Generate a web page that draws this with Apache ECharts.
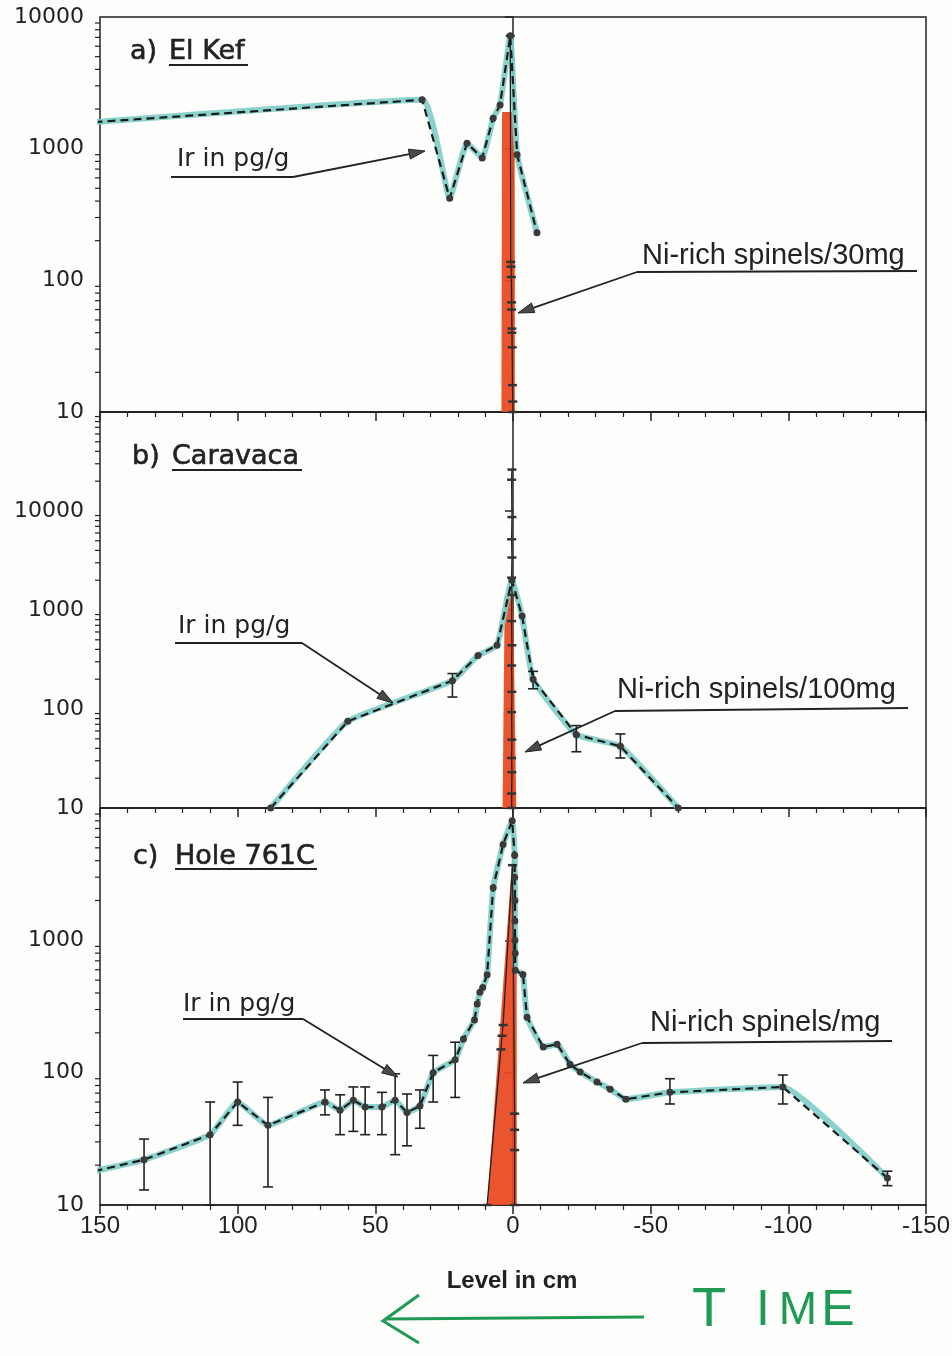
<!DOCTYPE html>
<html>
<head>
<meta charset="UTF-8">
<title>Ir and Ni-rich spinels across the K/T boundary</title>
<script src="https://cdn.jsdelivr.net/npm/echarts@6.0.0/dist/echarts.min.js"></script>
<style>
  html, body { margin: 0; padding: 0; background: #fdfdfb; }
  #chart { width: 952px; height: 1356px; }
</style>
</head>
<body>
<div id="chart"></div>
<script>
// ---- data (level in cm, positive = below the boundary) ----
var levelTicks = [150, 100, 50, 0, -50, -100, -150];
var yLabelsA = [10, 100, 1000, 10000];
var yLabelsB = [10, 100, 1000, 10000];
var yLabelsC = [10, 100, 1000];

// a) El Kef
var irA_level = [152, 33, 23, 16.7, 11.2, 7.2, 4.7, 1, -1.5, -8.7];
var irA_value = [1590, 2350, 420, 1100, 850, 1700, 2150, 7200, 900, 230];
var spA_level = [1, 0.8, 0.7, 0.6, 0.5, 0.5, 0.4, 0.4, 0.3, 0.2, 0.1, 0];
var spA_value = [7200, 138, 127, 106, 68, 60, 43, 40, 31, 16, 12, 10];
var redA_level = [4.2, 4, -0.6, -0.7];
var redA_value = [10, 1900, 1900, 10];

// b) Caravaca
var irB_level = [88, 60, 22, 12.7, 5.8, 0.4, -3.3, -7.3, -23, -39, -60];
var irB_value = [10, 75, 193, 347, 440, 2000, 870, 200, 55, 42, 10];
var errB_level = [22, -7.3, -23, -39];
var errB_low = [132, 160, 37, 32];
var errB_high = [228, 240, 68, 56];
var spB_level = [0.5, 0.5, 0.4, 0.5, 0.4, 0.5, 0.4, 0.5, 0.4, 0.5, 0.4, 0.5, 0.4, 0.5, 0.4, 0.5, 0.4];
var spB_value = [10, 14, 23, 32, 49, 93, 149, 275, 440, 773, 1420, 2120, 3390, 5180, 8680, 20700, 26200];
var redB_level = [3.8, 3, 0, -1.2];
var redB_value = [10, 1400, 1400, 10];

// c) Hole 761C
var irC_level = [152, 134, 110, 100, 89, 68.3, 62.8, 58, 53.7, 47.6, 42.8, 38.5, 33.8, 29, 21,
  18, 14, 13, 12, 11, 9.4, 7.2, 3.6, 0.3, -0.6, -0.6, -0.7, -0.7, -0.7, -0.8,
  -0.8, -3.6, -5.1, -11, -16, -20.7, -24.4, -30.5, -35.3, -41, -57, -98, -136];
var irC_value = [18, 22, 34, 60, 40, 60, 52, 62, 55, 55, 62, 50, 56, 100, 125,
  180, 250, 330, 405, 440, 550, 2500, 5300, 8000, 4400, 3000, 2000, 1400, 1000, 800,
  594, 553, 262, 156, 164, 116, 101, 85, 75, 63, 71, 78, 16];
var errC_level = [134, 110, 100, 89, 68.3, 62.8, 58, 53.7, 47.6, 42.8, 38.5, 33.8, 29, 21, -57, -98, -136];
var errC_low = [13, 10, 40, 13.7, 48, 34, 36, 34, 34, 24, 28, 38, 60, 65, 58, 58, 14];
var errC_high = [31.5, 60, 85, 65, 74, 68, 78, 78, 71, 98, 69, 74, 135, 170, 90, 96, 18];
var spC_level = [9.4, 4.4, 4.0, 3.6, 0.2, -0.6, -0.6, -0.6, -0.6];
var spC_value = [10, 150, 190, 229, 3700, 49, 37, 26, 10];
var redC_level = [9.4, 0.4, -1.3, -1.4];
var redC_value = [10, 3750, 3750, 10];

// ---- helpers ----
var ink = '#222';
var cyan = '#7ccdc8';
var red = '#e8461d';
var green = '#1f9a55';

function zip(xs, ys) {
  return xs.map(function (x, i) { return [x, ys[i]]; });
}

function xAxisFor(i, showLabels) {
  return {
    type: 'value', gridIndex: i, min: -150, max: 150, interval: 50, inverse: true,
    axisLine: { show: true, onZero: false, lineStyle: { color: ink, width: 1.5 } },
    axisTick: { show: true, length: 9, lineStyle: { color: ink, width: 1.5 } },
    minorTick: { show: true, splitNumber: 5, length: 5, lineStyle: { color: ink, width: 1.2 } },
    splitLine: { show: false },
    axisLabel: {
      show: showLabels, margin: 9, color: ink, fontSize: 24,
      fontFamily: "'Liberation Sans Narrow', 'Liberation Sans', sans-serif",
      formatter: function (v) { return levelTicks.indexOf(v) >= 0 ? String(v) : ''; }
    }
  };
}

function yAxisFor(i, max, labels) {
  return {
    type: 'log', logBase: 10, gridIndex: i, min: 10, max: max,
    axisLine: { show: true, lineStyle: { color: ink, width: 1.5 } },
    axisTick: { show: true, length: 8, lineStyle: { color: ink, width: 1.5 } },
    splitLine: { show: false },
    axisLabel: {
      margin: 16, color: ink, fontSize: 22, fontFamily: 'DejaVu Sans',
      formatter: function (v) {
        var r = Math.round(v);
        return labels.indexOf(r) >= 0 ? String(r) : '';
      }
    }
  };
}

function minorTicks(i, lo, hi) {
  var vals = [];
  for (var d = lo; d < hi; d *= 10) {
    for (var m = 2; m <= 9; m++) vals.push([0, d * m]);
  }
  return {
    type: 'custom', xAxisIndex: i, yAxisIndex: i, silent: true, z: 5,
    data: vals, encode: { x: 0, y: 1 },
    renderItem: function (params, api) {
      var y = api.coord([0, api.value(1)])[1];
      var x = params.coordSys.x;
      return { type: 'line', shape: { x1: x - 5, y1: y, x2: x, y2: y },
        style: { stroke: ink, lineWidth: 1.2 } };
    }
  };
}

function highlight(i, levels, values) {
  return {
    type: 'line', xAxisIndex: i, yAxisIndex: i, z: 2, data: zip(levels, values),
    smooth: 0.12, showSymbol: false, silent: true,
    lineStyle: { color: cyan, width: 6, opacity: 0.9 }
  };
}

function irLine(i, levels, values) {
  return {
    type: 'line', xAxisIndex: i, yAxisIndex: i, z: 4, data: zip(levels, values),
    symbol: 'circle', symbolSize: 7,
    itemStyle: { color: '#3a3a3a' },
    lineStyle: { color: '#1a1a1a', width: 2.2, type: [8, 5] }
  };
}

function spinelLine(i, levels, values) {
  return {
    type: 'line', xAxisIndex: i, yAxisIndex: i, z: 3, data: zip(levels, values),
    symbol: 'rect', symbolSize: [9, 2.5],
    itemStyle: { color: '#333' },
    lineStyle: { color: ink, width: 1.3 }
  };
}

function redBand(i, levels, values) {
  return {
    type: 'line', xAxisIndex: i, yAxisIndex: i, z: 1, data: zip(levels, values),
    showSymbol: false, silent: true,
    lineStyle: { width: 0 },
    areaStyle: { color: red, opacity: 0.92, origin: 'start' }
  };
}

function errorBars(i, levels, lows, highs) {
  return {
    type: 'custom', xAxisIndex: i, yAxisIndex: i, z: 4,
    data: levels.map(function (l, k) { return [l, lows[k], highs[k]]; }),
    encode: { x: 0, y: [1, 2] },
    renderItem: function (params, api) {
      var lo = api.coord([api.value(0), api.value(1)]);
      var hi = api.coord([api.value(0), api.value(2)]);
      var w = 5, st = { stroke: ink, lineWidth: 1.6 };
      return { type: 'group', children: [
        { type: 'line', shape: { x1: lo[0], y1: lo[1], x2: hi[0], y2: hi[1] }, style: st },
        { type: 'line', shape: { x1: lo[0] - w, y1: lo[1], x2: lo[0] + w, y2: lo[1] }, style: st },
        { type: 'line', shape: { x1: hi[0] - w, y1: hi[1], x2: hi[0] + w, y2: hi[1] }, style: st }
      ] };
    }
  };
}

// annotation helpers (pixel positions of labels and leaders)
function txt(s, x, y, size, family, extra) {
  var st = { text: s, x: x, y: y, fill: ink, fontSize: size, fontFamily: family,
    textAlign: 'left', textVerticalAlign: 'middle' };
  for (var k in (extra || {})) st[k] = extra[k];
  return { type: 'text', z: 20, style: st };
}
function seg(x1, y1, x2, y2, color, w) {
  return { type: 'line', z: 20, shape: { x1: x1, y1: y1, x2: x2, y2: y2 },
    style: { stroke: color || ink, lineWidth: w || 1.8 } };
}
function arrow(points) {
  var n = points.length, a = points[n - 2], b = points[n - 1];
  var dx = b[0] - a[0], dy = b[1] - a[1], len = Math.sqrt(dx * dx + dy * dy);
  var ux = dx / len, uy = dy / len, L = 16, W = 5;
  var bx = b[0] - ux * L, by = b[1] - uy * L;
  return [
    { type: 'polyline', z: 20, shape: { points: points.slice(0, n - 1).concat([[bx, by]]) },
      style: { stroke: ink, lineWidth: 1.8, fill: null } },
    { type: 'polygon', z: 20, shape: { points: [b, [bx - uy * W, by + ux * W], [bx + uy * W, by - ux * W]] },
      style: { fill: '#4a4a4a', stroke: ink, lineWidth: 1 } }
  ];
}

var titleFont = 'DejaVu Sans';
var titleExtra = { stroke: ink, lineWidth: 0.6 };
var niFont = "'Liberation Sans', Arial, sans-serif";

var graphics = [
  // panel titles
  txt('a)', 130, 52, 27, titleFont, titleExtra), txt('El Kef', 169, 52, 27, titleFont, titleExtra),
  seg(169, 65, 248, 65, ink, 2),
  txt('b)', 132, 457, 27, titleFont, titleExtra), txt('Caravaca', 172, 457, 27, titleFont, titleExtra),
  seg(172, 470, 302, 470, ink, 2),
  txt('c)', 133, 857, 27, titleFont, titleExtra), txt('Hole 761C', 175, 857, 27, titleFont, titleExtra),
  seg(175, 869, 317, 869, ink, 2),
  // Ir labels
  txt('Ir in pg/g', 177, 159, 25, titleFont), seg(171, 177, 293, 177),
  txt('Ir in pg/g', 178, 626, 25, titleFont), seg(175, 643, 302, 643),
  txt('Ir in pg/g', 183, 1004, 25, titleFont), seg(183, 1019, 303, 1019),
  // spinel labels
  txt('Ni-rich spinels/30mg', 642, 256, 29, niFont), seg(637, 272, 917, 271),
  txt('Ni-rich spinels/100mg', 617, 690, 29, niFont), seg(615, 711, 908, 708),
  txt('Ni-rich spinels/mg', 650, 1023, 29, niFont), seg(642, 1043, 892, 1041),
  // x axis title
  { type: 'text', z: 20, style: { text: 'Level in cm', x: 512, y: 1281, fill: ink, fontSize: 24,
    fontWeight: 'bold', fontFamily: "'Liberation Sans', Arial, sans-serif",
    textAlign: 'center', textVerticalAlign: 'middle' } },
  // green TIME arrow
  seg(644, 1317, 385, 1319, green, 3),
  { type: 'polyline', z: 20, shape: { points: [[419, 1295], [383, 1321], [419, 1343]] },
    style: { stroke: green, lineWidth: 3, fill: null } }
];
[['T', 709, 56], ['I', 763, 50], ['M', 798, 46], ['E', 838, 50]].forEach(function (p) {
  graphics.push({ type: 'text', z: 20, style: { text: p[0], x: p[1], y: 1311, fill: green,
    fontSize: p[2], fontFamily: "'Liberation Sans Narrow', 'Liberation Sans', sans-serif",
    textAlign: 'center', textVerticalAlign: 'middle' } });
});
graphics = graphics
  .concat(arrow([[293, 177], [425, 151]]))
  .concat(arrow([[637, 272], [518, 313]]))
  .concat(arrow([[302, 643], [393, 703]]))
  .concat(arrow([[615, 711], [525, 752]]))
  .concat(arrow([[303, 1019], [398, 1077]]))
  .concat(arrow([[642, 1043], [523, 1083]]));

var chart = echarts.init(document.getElementById('chart'), null, { renderer: 'canvas' });
var gridBase = { left: 100, right: 26, show: true, borderColor: ink, borderWidth: 1.5,
  backgroundColor: 'transparent', containLabel: false, outerBoundsMode: 'none' };
chart.setOption({
  animation: false,
  backgroundColor: '#fdfdfb',
  grid: [
    Object.assign({ top: 17, height: 395 }, gridBase),
    Object.assign({ top: 412, height: 396 }, gridBase),
    Object.assign({ top: 808, height: 397 }, gridBase)
  ],
  xAxis: [xAxisFor(0, false), xAxisFor(1, false), xAxisFor(2, true)],
  yAxis: [yAxisFor(0, 10000, yLabelsA), yAxisFor(1, 100000, yLabelsB), yAxisFor(2, 10000, yLabelsC)],
  series: [
    redBand(0, redA_level, redA_value),
    highlight(0, irA_level, irA_value),
    spinelLine(0, spA_level, spA_value),
    irLine(0, irA_level, irA_value),
    minorTicks(0, 10, 10000),

    redBand(1, redB_level, redB_value),
    highlight(1, irB_level, irB_value),
    spinelLine(1, spB_level, spB_value),
    irLine(1, irB_level, irB_value),
    errorBars(1, errB_level, errB_low, errB_high),
    minorTicks(1, 10, 100000),

    redBand(2, redC_level, redC_value),
    highlight(2, irC_level, irC_value),
    spinelLine(2, spC_level, spC_value),
    irLine(2, irC_level, irC_value),
    errorBars(2, errC_level, errC_low, errC_high),
    minorTicks(2, 10, 10000)
  ],
  graphic: graphics
});
</script>
</body>
</html>
